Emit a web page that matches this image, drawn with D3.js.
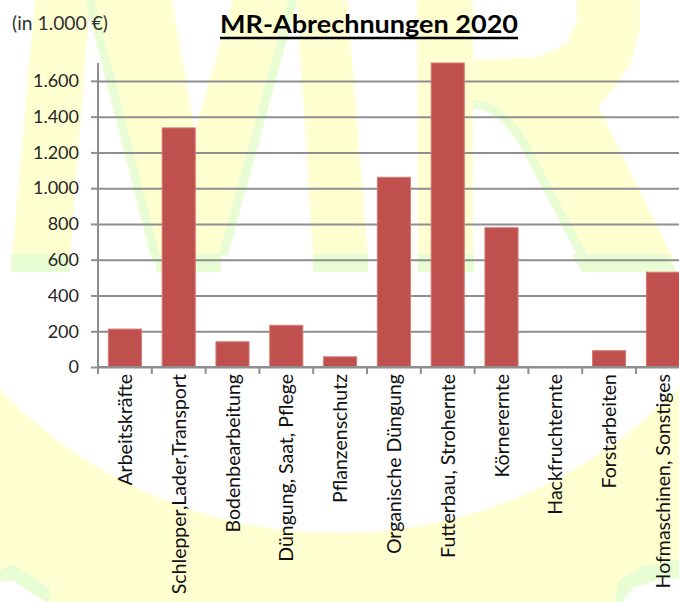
<!DOCTYPE html>
<html>
<head>
<meta charset="utf-8">
<script src="https://cdn.jsdelivr.net/npm/d3@7"></script>
<style>
  body { margin: 0; background: #fff; }
  svg { display: block; font-family: Lato, "Open Sans", sans-serif; }
</style>
</head>
<body>
<div id="chart"></div>
<script>
// chart data
var categories = ["Arbeitskräfte", "Schlepper,Lader,Transport", "Bodenbearbeitung",
  "Düngung, Saat, Pflege", "Pflanzenschutz", "Organische Düngung",
  "Futterbau, Strohernte", "Körnerernte", "Hackfruchternte", "Forstarbeiten",
  "Hofmaschinen, Sonstiges"];
var values = [212, 1337, 141, 233, 57, 1061, 1700, 779, 0, 91, 530];
var yTicks = [0, 200, 400, 600, 800, 1000, 1200, 1400, 1600];
var yMax = 1700;
var title = "MR-Abrechnungen 2020";
var unitLabel = "(in 1.000 €)";

function init() {
  var w = 679, h = 602;
  var left = 98, bottom = 367, top = 63;
  var yellow = "#ffffd2", green = "#e8fdd3";

  var svg = d3.select("#chart").append("svg")
    .attr("width", w).attr("height", h);

  // ***watermark (faint "MR" logo behind the chart)***
  var wm = svg.append("g");
  var defs = svg.append("defs");
  defs.append("clipPath").attr("id", "lowClip")
    .append("rect").attr("x", 0).attr("y", 272).attr("width", w).attr("height", h - 272);
  var low = wm.append("g").attr("clip-path", "url(#lowClip)");
  low.append("rect").attr("x", 0).attr("y", 272).attr("width", w).attr("height", h - 272).attr("fill", yellow);
  low.append("circle").attr("cx", 338).attr("cy", 62).attr("r", 471).attr("fill", "#fff");

  var line = d3.line();
  var shapes = [
    [[35,0],[90,0],[70,258],[12,258]],
    [[92,0],[172,0],[195,131],[233,0],[292,0],[221,262],[156,262]],
    [[297,0],[347,0],[368,258],[313,258]],
    [[417,0],[473,0],[473,258],[418,258]],
    [[473,0],[640,0],[640,30],[630,65],[612,90],[598,106],[675,262],[585,262],
     [560,215],[530,160],[505,125],[485,108],[473,104]]
  ];
  wm.selectAll("path.wmY").data(shapes).enter().append("path")
    .attr("class", "wmY")
    .attr("d", function(d) { return line(d) + "Z"; })
    .attr("fill", yellow);
  // R counter
  wm.append("path")
    .attr("d", line([[473,0],[577,0],[577,20],[567,43],[540,57],[473,60]]) + "Z")
    .attr("fill", "#fff");
  // green bases and edges
  var bases = [[11,70],[156,221],[313,368],[418,474],[559,663]];
  wm.selectAll("path.wmB").data(bases).enter().append("path")
    .attr("class", "wmB")
    .attr("d", function(d, i) {
      if (i == 4) return line([[572,254],[668,254],[676,272],[582,272]]) + "Z";
      return line([[d[0],254],[d[1],254],[d[1],272],[d[0],272]]) + "Z";
    })
    .attr("fill", green);
  var edges = [
    "M90,0 L157,262",
    "M293,0 L223,256",
    "M473,104 Q506,106 530,155 L586,262"
  ];
  wm.selectAll("path.wmE").data(edges).enter().append("path")
    .attr("class", "wmE")
    .attr("d", function(d) { return d; })
    .attr("fill", "none").attr("stroke", green).attr("stroke-width", 9);
  // corner notches
  wm.append("path").attr("d", line([[0,570],[13,564],[50,588],[50,602],[0,602]]) + "Z").attr("fill", green);
  wm.append("path").attr("d", line([[0,582],[12,580],[46,602],[0,602]]) + "Z").attr("fill", "#fff");
  wm.append("path").attr("d", line([[614,602],[619,580],[645,565],[679,560],[679,602]]) + "Z").attr("fill", green);
  wm.append("path").attr("d", line([[622,602],[633,588],[657,580],[679,578],[679,602]]) + "Z").attr("fill", "#fff");
  // ***watermark***

  var xScale = d3.scaleBand()
    .domain(categories)
    .range([left, left + 11 * 53.8])
    .paddingInner(0.385)
    .paddingOuter(0.1925);

  var yScale = d3.scaleLinear()
    .domain([0, yMax])
    .range([bottom, top]);

  var de = d3.formatLocale({decimal: ",", thousands: ".", grouping: [3], currency: ["", "€"]});
  var fmt = de.format(",");

  // gridlines
  var grid = d3.axisLeft(yScale).tickValues(yTicks).tickSize(-(w - left)).tickFormat("");
  svg.append("g")
    .attr("transform", "translate(" + left + ",0)")
    .call(grid)
    .call(function(g) {
      g.select(".domain").remove();
      g.selectAll("line").attr("stroke", "#8e8e8e").attr("stroke-width", 2);
    });

  // bars
  svg.selectAll("rect.bar")
    .data(values)
    .enter()
    .append("rect")
    .attr("class", "bar")
    .attr("x", function(d, i) { return xScale(categories[i]); })
    .attr("y", function(d) { return yScale(d); })
    .attr("width", xScale.bandwidth())
    .attr("height", function(d) { return bottom - yScale(d); })
    .attr("fill", "#c0504d")
    .attr("stroke", function(d) { return d > 0 ? "#d27a77" : "none"; })
    .attr("stroke-width", 1);

  // y axis
  var yAxis = d3.axisLeft(yScale).tickValues(yTicks).tickSize(7).tickPadding(12).tickFormat(fmt);
  svg.append("g")
    .attr("transform", "translate(" + left + ",0)")
    .call(yAxis)
    .call(function(g) {
      g.select(".domain").attr("stroke", "#8e8e8e").attr("stroke-width", 2)
        .attr("d", "M0," + top + "V" + (bottom + 7));
      g.selectAll("line").attr("stroke", "#8e8e8e").attr("stroke-width", 2);
      g.selectAll("text").attr("font-size", 18).attr("font-family", "Lato").attr("fill", "#262626");
    });

  // x axis: line, ticks between categories, rotated labels
  var xg = svg.append("g");
  xg.append("line")
    .attr("x1", left).attr("x2", w)
    .attr("y1", bottom).attr("y2", bottom)
    .attr("stroke", "#8e8e8e").attr("stroke-width", 2);
  xg.selectAll("line.tick")
    .data(d3.range(categories.length))
    .enter()
    .append("line")
    .attr("class", "tick")
    .attr("x1", function(i) { return xScale.range()[0] + i * xScale.step(); })
    .attr("x2", function(i) { return xScale.range()[0] + i * xScale.step(); })
    .attr("y1", bottom).attr("y2", bottom + 7)
    .attr("stroke", "#8e8e8e").attr("stroke-width", 2);
  xg.selectAll("text")
    .data(categories)
    .enter()
    .append("text")
    .attr("transform", function(d) {
      return "translate(" + (xScale(d) + xScale.bandwidth() / 2) + "," + (bottom + 7) + ") rotate(-90)";
    })
    .attr("text-anchor", "end")
    .attr("dy", "0.36em")
    .attr("font-size", 19.5)
    .attr("fill", "#111")
    .text(function(d) { return d; });

  // title + unit
  svg.append("text")
    .attr("x", 369).attr("y", 33)
    .attr("text-anchor", "middle")
    .attr("font-size", 25)
    .attr("font-weight", "bold")
    .attr("fill", "#000")
    .attr("textLength", 298)
    .attr("lengthAdjust", "spacingAndGlyphs")
    .text(title);
  svg.append("line")
    .attr("x1", 220).attr("x2", 518)
    .attr("y1", 38).attr("y2", 38)
    .attr("stroke", "#000").attr("stroke-width", 2.5);

  svg.append("text")
    .attr("x", 12).attr("y", 30)
    .attr("font-size", 18.5)
    .attr("fill", "#333")
    .attr("textLength", 96)
    .attr("lengthAdjust", "spacingAndGlyphs")
    .text(unitLabel);
}

window.onload = init;
</script>
</body>
</html>
